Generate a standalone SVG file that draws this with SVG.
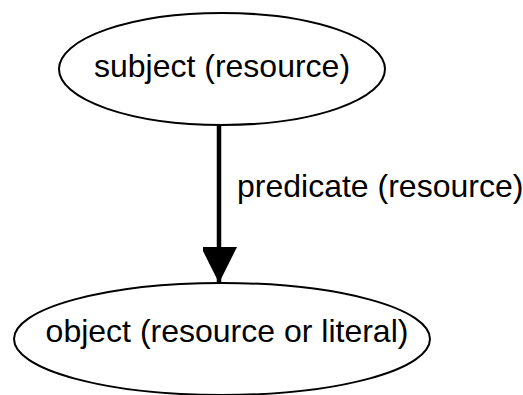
<svg xmlns="http://www.w3.org/2000/svg" width="523" height="395" viewBox="0 0 523 395">
  <style>
    .node ellipse { fill: #ffffff; stroke: #000000; stroke-width: 2; }
    .node text, .edge text { font-family: "Liberation Sans", Arial, sans-serif; font-size: 32px; fill: #000000; }
    .node text { text-anchor: middle; }
    .edge line { stroke: #000000; stroke-width: 4.5; }
  </style>
  <defs>
    <marker id="arrowhead" markerUnits="userSpaceOnUse" markerWidth="40" markerHeight="34" refX="36" refY="18" orient="auto">
      <path d="M0,0 L36,18 L0,36 Z" fill="#000000"/>
    </marker>
  </defs>
  <rect width="523" height="395" fill="#ffffff"/>
  <g id="edges" class="edge">
    <line x1="219" y1="125" x2="219" y2="283" marker-end="url(#arrowhead)"/>
    <text x="237" y="197">predicate (resource)</text>
  </g>
  <g id="subject" class="node">
    <ellipse cx="222" cy="69" rx="163" ry="56"/>
    <text x="222" y="77">subject (resource)</text>
  </g>
  <g id="object" class="node">
    <ellipse cx="222" cy="339" rx="208" ry="56"/>
    <text x="227" y="342">object (resource or literal)</text>
  </g>
</svg>
